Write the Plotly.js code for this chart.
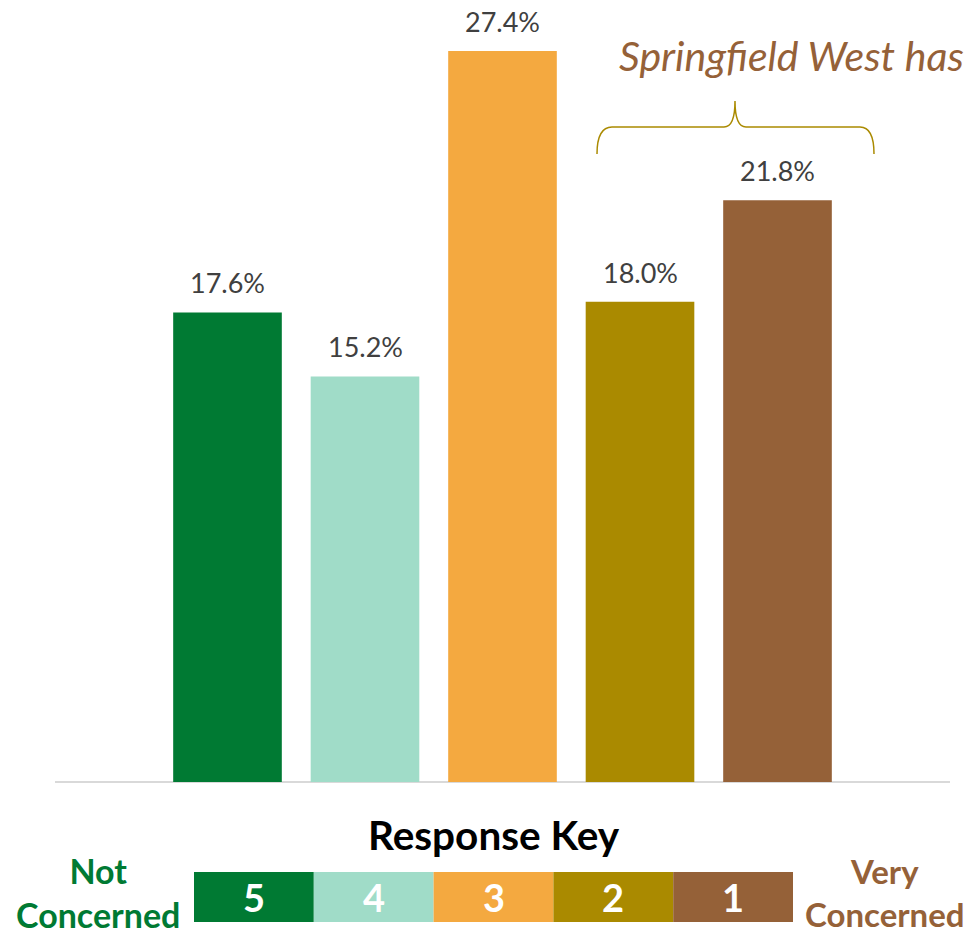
<!DOCTYPE html>
<html>
<head>
<meta charset="utf-8">
<script src="https://cdn.plot.ly/plotly-3.0.1.min.js"></script>
<style>html,body{margin:0;padding:0;background:#fff;}#chart{width:972px;height:935px;}</style>
</head>
<body>
<div id="chart"></div>
<script>
// ---- data ----
var categories = ['5', '4', '3', '2', '1'];
var values = [0.176, 0.152, 0.274, 0.180, 0.218];
var barColors = ['#007A33', '#A0DCC8', '#F4A940', '#AA8A00', '#956138'];
var keyLabels = ['5', '4', '3', '2', '1'];
var keyTitle = 'Response Key';
var leftKeyText = 'Not<br>Concerned';
var rightKeyText = 'Very<br>Concerned';
var calloutText = 'Springfield West has';

var W = 972, H = 935;
function px(x) { return x / W; }
function py(y) { return (H - y) / H; }

var FONT = 'Lato, "Open Sans", sans-serif';

var trace = {
  type: 'bar',
  x: categories,
  y: values,
  width: 0.79,
  marker: { color: barColors },
  hoverinfo: 'skip'
};

var annotations = [];
categories.forEach(function (c, i) {
  annotations.push({
    x: i, y: values[i], xref: 'x', yref: 'y',
    text: (values[i] * 100).toFixed(1) + '%',
    showarrow: false, yanchor: 'bottom', yshift: 11,
    font: { family: FONT, size: 27, color: '#404040' }
  });
});

// callout
annotations.push({
  xref: 'paper', yref: 'paper', x: px(617), y: py(55),
  xanchor: 'left', yanchor: 'middle',
  text: '<i>' + calloutText + '</i>', showarrow: false,
  font: { family: FONT, size: 41, color: '#956138' }
});

// key title
annotations.push({
  xref: 'paper', yref: 'paper', x: px(493.5), y: py(834),
  xanchor: 'center', yanchor: 'middle',
  text: '<b>' + keyTitle + '</b>', showarrow: false,
  font: { family: FONT, size: 40.5, color: '#000000' }
});
annotations.push({
  xref: 'paper', yref: 'paper', x: px(98), y: py(892),
  xanchor: 'center', yanchor: 'middle', align: 'center',
  text: '<b>' + leftKeyText + '</b>', showarrow: false,
  font: { family: FONT, size: 34, color: '#007A33' }
});
annotations.push({
  xref: 'paper', yref: 'paper', x: px(885), y: py(892),
  xanchor: 'center', yanchor: 'middle', align: 'center',
  text: '<b>' + rightKeyText + '</b>', showarrow: false,
  font: { family: FONT, size: 33, color: '#956138' }
});

var shapes = [];
// key boxes
var kx0 = 194, kw = 119.8, ky0 = 872, ky1 = 922;
keyLabels.forEach(function (k, i) {
  var x0 = kx0 + i * kw;
  shapes.push({
    type: 'rect', xref: 'paper', yref: 'paper',
    x0: px(x0), x1: px(x0 + kw), y0: py(ky1), y1: py(ky0),
    fillcolor: barColors[i], line: { width: 0 }
  });
  annotations.push({
    xref: 'paper', yref: 'paper', x: px(x0 + kw / 2), y: py(897),
    xanchor: 'center', yanchor: 'middle',
    text: '<b>' + k + '</b>', showarrow: false,
    font: { family: FONT, size: 38, color: '#FFFFFF' }
  });
});

// brace
function P(x, y) { return px(x).toFixed(5) + ',' + py(y).toFixed(5); }
var brace = 'M ' + P(597, 154) + ' Q ' + P(597, 127) + ' ' + P(612, 127) +
  ' L ' + P(724, 127) + ' Q ' + P(735, 127) + ' ' + P(735, 101) +
  ' Q ' + P(735, 127) + ' ' + P(746, 127) + ' L ' + P(860, 127) +
  ' Q ' + P(874, 127) + ' ' + P(874, 154);
shapes.push({
  type: 'path', xref: 'paper', yref: 'paper', path: brace,
  line: { color: '#AA8A00', width: 1.5 }
});

var layout = {
  width: W, height: H,
  margin: { l: 0, r: 0, t: 0, b: 0 },
  paper_bgcolor: '#ffffff', plot_bgcolor: '#ffffff',
  showlegend: false,
  xaxis: {
    domain: [px(55), px(950)],
    type: 'category',
    range: [-1.2545, 5.2545],
    showticklabels: false, ticks: '', showgrid: false, zeroline: false,
    showline: false, fixedrange: true
  },
  yaxis: {
    domain: [py(782), 1],
    range: [0, 0.2931],
    showticklabels: false, ticks: '', showgrid: false,
    zeroline: true, zerolinecolor: '#D9D9D9', zerolinewidth: 2,
    showline: false, fixedrange: true
  },
  shapes: shapes,
  annotations: annotations
};

Plotly.newPlot('chart', [trace], layout, { displayModeBar: false, staticPlot: true });
</script>
</body>
</html>
